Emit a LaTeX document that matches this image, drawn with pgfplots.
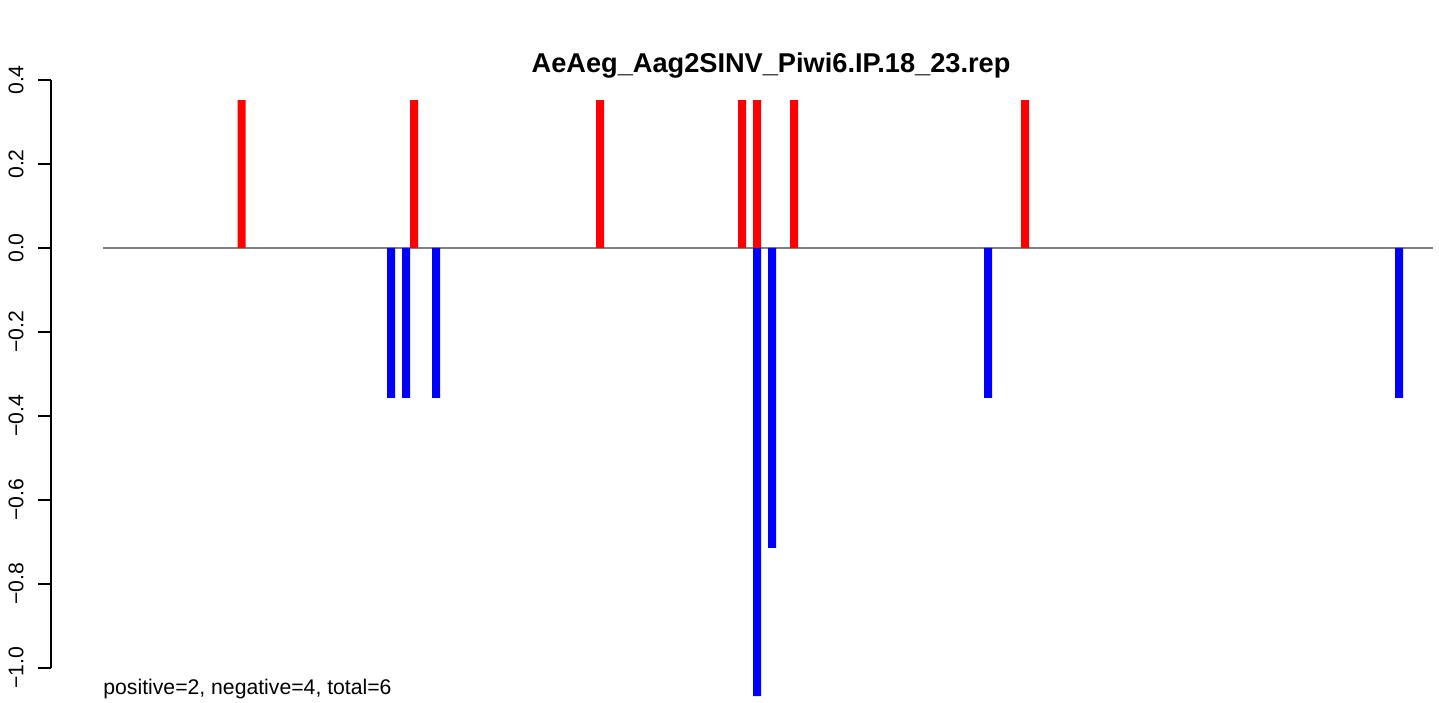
\documentclass[border=0pt]{standalone}
\usepackage{fontspec}
\setmainfont{Liberation Sans}
\usepackage{pgfplots}
\pgfplotsset{compat=1.18}
\begin{document}
\begin{tikzpicture}
\begin{axis}[
  scale only axis, width=694pt, height=294pt,
  xmin=51, xmax=1439, ymin=-1, ymax=0.4,
  clip=false,
  axis x line=none,
  axis y line*=left,
  ytick={-1,-0.8,-0.6,-0.4,-0.2,0,0.2,0.4},
  yticklabels={−1.0,−0.8,−0.6,−0.4,−0.2,0.0,0.2,0.4},
  tick align=outside, major tick length=6.5pt,
  y axis line style={line width=0.6pt,-},
  ytick style={line width=0.6pt, black},
  yticklabel style={rotate=90, anchor=south, inner sep=0pt, yshift=7pt, font=\fontsize{10.6}{12}\selectfont},
]
\path (axis cs:0,-1.0833) rectangle (axis cs:1439,0.5905);
% zero line
\addplot[color={rgb,255:red,128;green,128;blue,128}, line width=0.7pt] coordinates {(103,0) (1432.7,0)};
% positive (red)
\addplot[ybar, bar width=4pt, bar shift=0pt, fill={rgb,255:red,255;green,0;blue,0}, draw=none] coordinates {
 (241.5,0.352) (414,0.352) (600,0.352) (742,0.352) (757,0.352) (794,0.352) (1025,0.352)};
% negative (blue)
\addplot[ybar, bar width=4pt, bar shift=0pt, fill={rgb,255:red,0;green,0;blue,255}, draw=none] coordinates {
 (391,-0.357) (406,-0.357) (436,-0.357) (757,-1.067) (772,-0.714) (988,-0.357) (1399,-0.357)};
\node[font=\bfseries\fontsize{13.6}{16}\selectfont, anchor=base] at (axis cs:771,0.419) {AeAeg\_Aag2SINV\_Piwi6.IP.18\_23.rep};
\node[anchor=base west, inner sep=0pt, font=\fontsize{10.6}{12}\selectfont] at (axis cs:103,-1.064) {positive=2, negative=4, total=6};
\end{axis}
\end{tikzpicture}
\end{document}
